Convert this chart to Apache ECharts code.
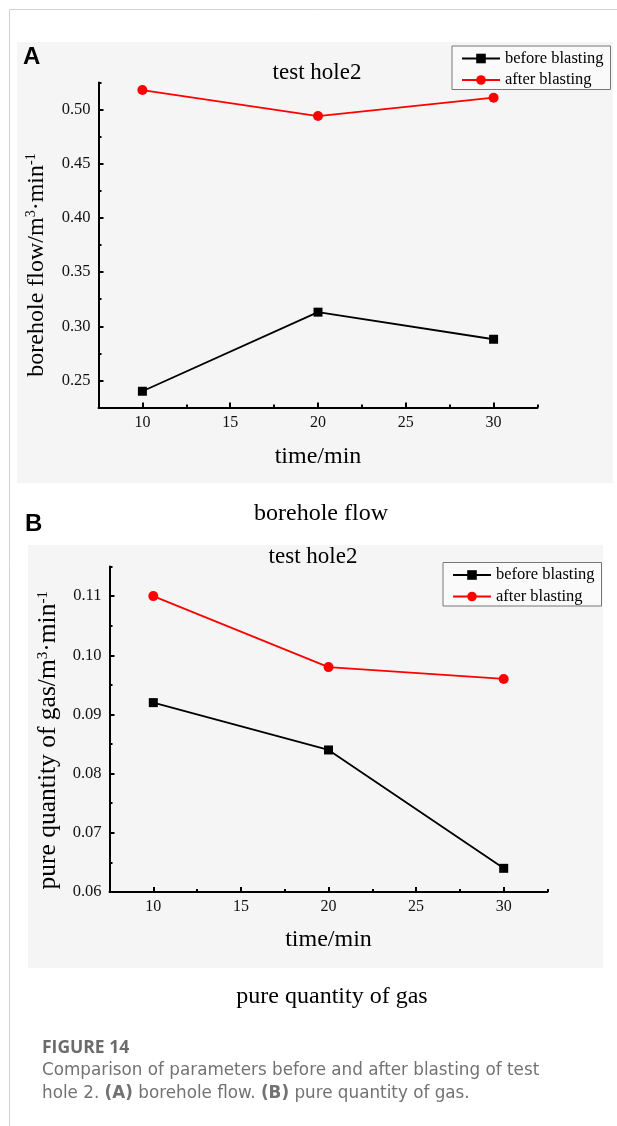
<!DOCTYPE html>
<html><head><meta charset="utf-8">
<script src="https://cdn.jsdelivr.net/npm/echarts@6/dist/echarts.min.js"></script>
<style>html,body{margin:0;padding:0;background:#fff}#c{width:617px;height:1126px}</style>
</head><body><div id="c"></div>
<script>
// ---- data ----
const times = [10, 20, 30];
const flowBefore = [0.240, 0.313, 0.288];
const flowAfter = [0.518, 0.494, 0.511];
const gasBefore = [0.092, 0.084, 0.064];
const gasAfter = [0.110, 0.098, 0.096];
const seriesNames = ['before blasting', 'after blasting'];
const xMajorTicks = [10, 15, 20, 25, 30];
const xMinorTicks = [12.5, 17.5, 22.5, 27.5, 32.5];
const flowMajorTicks = [0.25, 0.30, 0.35, 0.40, 0.45, 0.50];
const flowMinorTicks = [0.275, 0.325, 0.375, 0.425, 0.475, 0.525];
const gasMajorTicks = [0.06, 0.07, 0.08, 0.09, 0.10, 0.11];
const gasMinorTicks = [0.065, 0.075, 0.085, 0.095, 0.105, 0.115];

const SERIF = "'Liberation Serif','Times New Roman',serif";
const SANS = "'DejaVu Sans','Noto Sans',sans-serif";
const chart = echarts.init(document.getElementById('c'), null, {renderer: 'canvas'});

function pairs(ys) { return times.map((t, i) => [t, ys[i]]); }

function xAxes(grid, nameGap) {
  return [{
    type: 'value', gridIndex: grid, position: 'bottom', min: 7.5, max: 32.5,
    name: 'time/min', nameLocation: 'middle', nameGap: nameGap,
    nameTextStyle: {fontFamily: SERIF, fontSize: 24, color: '#000'},
    axisLine: {show: true, onZero: false, lineStyle: {color: '#000', width: 2}},
    axisTick: {show: true, inside: true, length: 5, lineStyle: {color: '#000', width: 2}, customValues: xMajorTicks},
    axisLabel: {customValues: xMajorTicks, fontFamily: SERIF, fontSize: 16, color: '#111', margin: 7},
    splitLine: {show: false}
  }, {
    type: 'value', gridIndex: grid, position: 'bottom', min: 7.5, max: 32.5,
    axisLine: {show: false},
    axisTick: {show: true, inside: true, length: 3, lineStyle: {color: '#000', width: 2}, customValues: xMinorTicks},
    axisLabel: {show: false},
    splitLine: {show: false}
  }];
}

function yAxes(grid, min, max, major, minor, name, nameGap, pad, fs) {
  return [{
    type: 'value', gridIndex: grid, position: 'left', min: min, max: max,
    name: name, nameLocation: 'middle', nameGap: nameGap, nameRotate: 90,
    nameTextStyle: {
      fontFamily: SERIF, fontSize: fs, color: '#000', padding: pad,
      rich: {
        t: {fontFamily: SERIF, fontSize: fs, color: '#000'},
        s: {fontFamily: SERIF, fontSize: Math.round(fs * 0.6), color: '#000', verticalAlign: 'top'}
      }
    },
    axisLine: {show: true, onZero: false, lineStyle: {color: '#000', width: 2}},
    axisTick: {show: true, inside: true, length: 5, lineStyle: {color: '#000', width: 2}, customValues: major},
    axisLabel: {customValues: major, fontFamily: SERIF, fontSize: 16.5, color: '#111', margin: 8,
      formatter: v => v.toFixed(2)},
    splitLine: {show: false}
  }, {
    type: 'value', gridIndex: grid, position: 'left', min: min, max: max,
    axisLine: {show: false},
    axisTick: {show: true, inside: true, length: 3, lineStyle: {color: '#000', width: 2}, customValues: minor},
    axisLabel: {show: false},
    splitLine: {show: false}
  }];
}

function legend(left, top) {
  return {
    left: left, top: top, orient: 'vertical', data: seriesNames,
    backgroundColor: '#fafafa', borderColor: '#777', borderWidth: 1,
    padding: [4, 7, 1, 9], itemGap: 4.5, itemWidth: 38, itemHeight: 12,
    textStyle: {fontFamily: SERIF, fontSize: 16.5, color: '#000', lineHeight: 16},
    selectedMode: false
  };
}

function lineSeries(name, color, symbol, size, xi, yi, data) {
  return {
    type: 'line', name: name, xAxisIndex: xi, yAxisIndex: yi, data: data,
    symbol: symbol, symbolSize: size, showSymbol: true,
    lineStyle: {color: color, width: 1.8}, itemStyle: {color: color},
    animation: false, z: 5
  };
}

const option = {
  animation: false,
  backgroundColor: '#ffffff',
  grid: [
    {left: 98.5, top: 82.5, width: 439, height: 325},
    {left: 109.5, top: 566.5, width: 438, height: 325.5}
  ],
  xAxis: [...xAxes(0, 37), ...xAxes(1, 36)],
  yAxis: [
    ...yAxes(0, 0.225, 0.525, flowMajorTicks, flowMinorTicks,
      '{t|borehole flow/m}{s|3}{t|·min}{s|-1}', 50, [0, 40, 0, 0], 24),
    ...yAxes(1, 0.06, 0.115, gasMajorTicks, gasMinorTicks,
      '{t|pure quantity of gas/m}{s|3}{t|·min}{s|-1}', 47, [0, 22, 0, 0], 25.5)
  ],
  legend: [legend(452, 46), legend(443, 562.5)],
  graphic: [
    {type: 'line', shape: {x1: 9.5, y1: 9.5, x2: 617, y2: 9.5}, style: {stroke: '#d2d2d2', lineWidth: 1}, silent: true},
    {type: 'line', shape: {x1: 9.5, y1: 9.5, x2: 9.5, y2: 1126}, style: {stroke: '#d2d2d2', lineWidth: 1}, silent: true},
    {type: 'rect', shape: {x: 17, y: 42, width: 596, height: 441}, style: {fill: '#f5f5f5'}, z: -10, silent: true},
    {type: 'rect', shape: {x: 28, y: 545, width: 575, height: 423}, style: {fill: '#f5f5f5'}, z: -10, silent: true},
    {type: 'text', x: 317, y: 73, style: {text: 'test hole2', fontFamily: SERIF, fontSize: 23, fill: '#000', align: 'center', verticalAlign: 'middle'}},
    {type: 'text', x: 313, y: 556.5, style: {text: 'test hole2', fontFamily: SERIF, fontSize: 23, fill: '#000', align: 'center', verticalAlign: 'middle'}},
    {type: 'text', x: 23, y: 57, style: {text: 'A', fontFamily: "'Liberation Sans',Arial,sans-serif", fontWeight: 'bold', fontSize: 24, fill: '#000', verticalAlign: 'middle'}},
    {type: 'text', x: 25, y: 524, style: {text: 'B', fontFamily: "'Liberation Sans',Arial,sans-serif", fontWeight: 'bold', fontSize: 24, fill: '#000', verticalAlign: 'middle'}},
    {type: 'text', x: 321, y: 514, style: {text: 'borehole flow', fontFamily: SERIF, fontSize: 24, fill: '#000', align: 'center', verticalAlign: 'middle'}},
    {type: 'text', x: 332, y: 997, style: {text: 'pure quantity of gas', fontFamily: SERIF, fontSize: 24, fill: '#000', align: 'center', verticalAlign: 'middle'}},
    {type: 'text', x: 42, y: 1048, style: {text: 'FIGURE 14', fontFamily: "'Open Sans','Noto Sans',sans-serif", fontWeight: 'bold', fontSize: 17.5, fill: '#6b6b6b', verticalAlign: 'middle'}},
    {type: 'text', x: 42, y: 1071, style: {text: 'Comparison of parameters before and after blasting of test', fontFamily: SANS, fontSize: 16.8, fill: '#727272', verticalAlign: 'middle'}},
    {type: 'text', x: 42, y: 1094, style: {
      text: '{n|hole 2. }{b|(A)}{n| borehole flow. }{b|(B)}{n| pure quantity of gas.}',
      rich: {
        n: {fontFamily: SANS, fontSize: 16.8, fill: '#727272'},
        b: {fontFamily: SANS, fontSize: 16.8, fontWeight: 'bold', fill: '#727272'}
      }, verticalAlign: 'middle'}}
  ],
  series: [
    lineSeries(seriesNames[0], '#000000', 'rect', 9, 0, 0, pairs(flowBefore)),
    lineSeries(seriesNames[1], '#ff0000', 'circle', 10, 0, 0, pairs(flowAfter)),
    lineSeries(seriesNames[0], '#000000', 'rect', 9, 2, 2, pairs(gasBefore)),
    lineSeries(seriesNames[1], '#ff0000', 'circle', 10, 2, 2, pairs(gasAfter))
  ]
};
chart.setOption(option);
</script>
</body></html>
